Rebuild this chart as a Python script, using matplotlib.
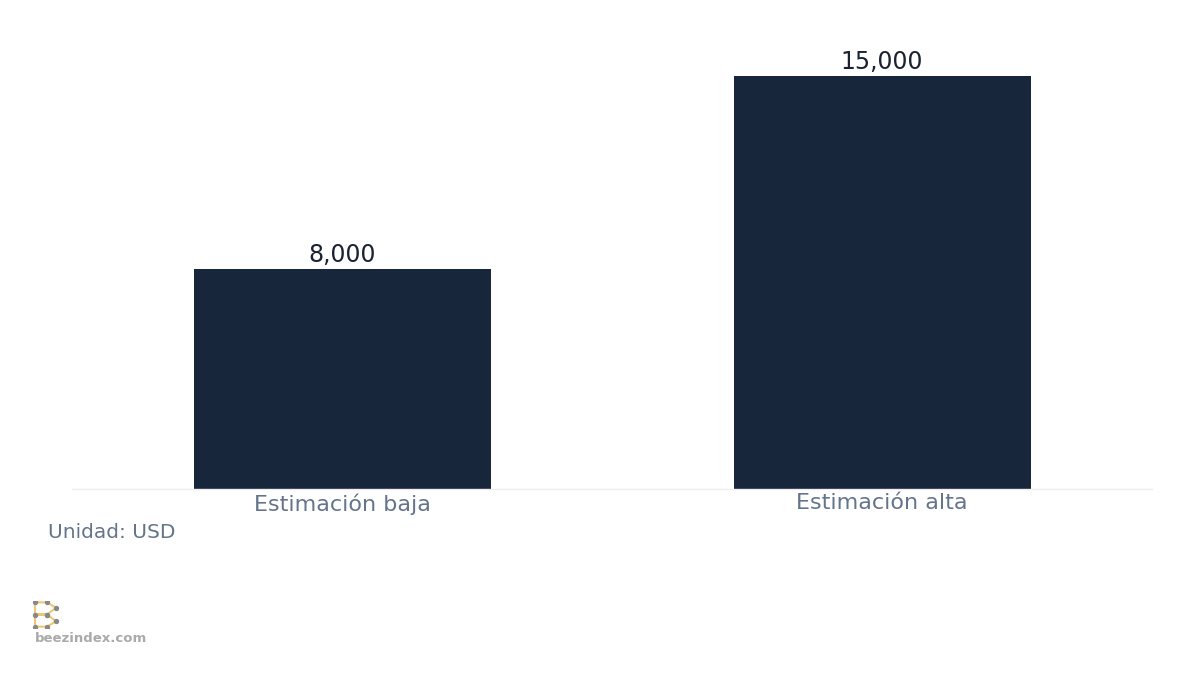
import matplotlib
matplotlib.use("Agg")
import matplotlib.pyplot as plt

plt.rcParams["font.family"] = ["DejaVu Sans"]

# data
categories = ["Estimación baja", "Estimación alta"]
values = [8000, 15000]
value_labels = ["8,000", "15,000"]
unit_note = "Unidad: USD"

bar_color = "#18263c"
label_color = "#64748b"

fig = plt.figure(figsize=(12, 6.75), dpi=100)
ax = fig.add_axes([0.06, 0.2756, 0.90, 0.6724])

x = range(len(categories))
bars = ax.bar(x, values, width=0.55, color=bar_color, zorder=2)

for b, lab in zip(bars, value_labels):
    ax.text(b.get_x() + b.get_width() / 2, b.get_height() + 80, lab,
            ha="center", va="bottom", fontsize=17, color="#1a2233")

ax.set_xlim(-0.5, 1.5)
ax.set_ylim(0, 16500)
ax.set_xticks(list(x))
ax.set_xticklabels(categories, fontsize=16, color=label_color)
ax.tick_params(axis="x", length=0, pad=3)
ax.set_yticks([])
for s in ["top", "right", "left"]:
    ax.spines[s].set_visible(False)
ax.spines["bottom"].set_color("#eeeeee")
ax.spines["bottom"].set_linewidth(1)

fig.text(0.04, 1 - 532 / 675, unit_note, fontsize=14.5, color=label_color,
         va="center", ha="left")

# small logo
lax = fig.add_axes([0.027, 1 - 628 / 675, 0.022, 0.04])
lax.set_xlim(0, 1)
lax.set_ylim(0, 1)
lax.axis("off")
pts_x = [0.1, 0.55, 0.9, 0.55, 0.1, 0.55, 0.9, 0.55, 0.1]
pts_y = [0.95, 0.95, 0.75, 0.5, 0.5, 0.5, 0.25, 0.05, 0.05]
lax.plot([0.1, 0.1], [0.05, 0.95], color="#f0c674", lw=1.5)
lax.plot(pts_x, pts_y, color="#f0c674", lw=1.5)
lax.scatter(pts_x, pts_y, s=8, color="#888888", zorder=3)
fig.text(0.029, 1 - 638 / 675, "beezindex.com", fontsize=9.5, color="#aaaaaa",
         fontweight="bold", va="center", ha="left")

fig.savefig("out.png", dpi=100, facecolor="white")
